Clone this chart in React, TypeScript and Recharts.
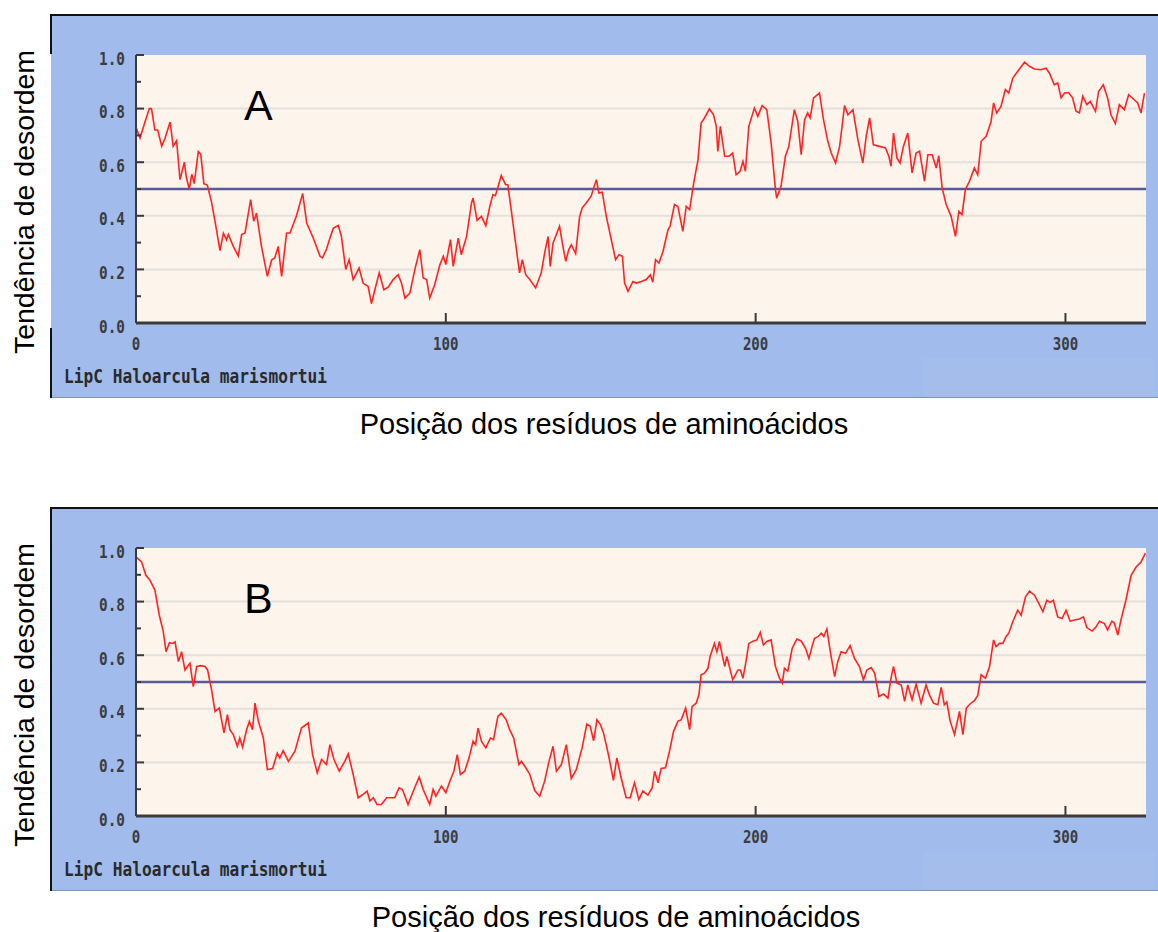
import React from 'react';
import { LineChart, Line, XAxis, YAxis, CartesianGrid, ReferenceLine } from 'recharts';

// Panel A – residue position and disorder tendency
const aPos = [0,1.3,2.9,4.3,5.0,6.1,7.0,8.3,9.4,11.0,12.0,13.1,14.2,15.6,16.3,17.2,18.0,18.8,20.1,20.9,21.9,23.0,24.4,25.8,27.1,28.2,29.2,29.8,31.4,33.0,34.1,35.2,37.0,38.0,38.9,40.5,42.4,43.8,44.8,45.9,47.0,48.6,49.7,51.8,53.8,55.1,57.2,59.4,60.2,61.5,62.6,63.7,65.3,66.3,67.7,68.8,70.1,72.0,73.3,74.9,76.0,77.1,78.5,80.0,81.4,83.0,84.6,85.7,86.8,88.4,90.0,91.6,92.7,93.8,94.8,96.4,98.1,99.2,100.0,101.5,102.4,104.0,105.0,106.7,108.3,108.8,110.1,111.5,112.9,114.2,115.2,116.0,117.9,119.3,120.0,121.1,122.5,123.8,124.7,125.8,127.1,129.0,130.8,131.9,133.0,133.7,134.6,136.7,137.8,138.7,139.7,140.5,141.9,143.2,144.0,145.3,146.9,148.6,149.4,150.5,151.8,153.4,154.8,155.9,157.0,157.7,158.8,160.4,161.5,163.1,164.7,166.0,166.8,167.7,168.8,170.1,171.7,172.4,173.8,174.9,176.5,177.6,178.7,180.0,181.4,182.4,183.5,185.1,186.4,187.3,187.8,188.6,190.0,191.4,192.6,193.7,195.0,195.9,196.7,197.8,199.6,200.7,202.1,203.6,205.0,206.4,206.8,208.2,209.6,210.7,212.5,213.6,214.7,215.8,216.8,217.6,218.7,220.6,221.9,223.3,224.4,225.8,227.1,227.9,228.7,229.8,231.4,233.0,234.6,235.7,236.8,238.0,240.0,241.9,243.0,243.7,244.5,245.6,246.6,247.7,249.1,250.5,251.8,252.9,254.5,255.6,257.0,258.3,259.1,260.2,261.5,263.1,264.5,265.6,266.6,267.7,269.0,270.6,271.7,272.8,274.4,276.0,276.8,277.8,279.2,280.6,281.7,283.0,284.6,286.8,288.4,290.0,292.1,293.7,294.8,296.4,297.5,298.6,299.7,301.0,302.3,303.4,304.5,305.6,306.9,308.0,309.7,310.7,312.2,313.6,314.7,316.1,317.4,319.0,320.4,322.2,323.3,324.4,325.5];
const aVal = [0.73,0.69,0.75,0.80,0.80,0.72,0.72,0.66,0.69,0.75,0.66,0.68,0.535,0.60,0.54,0.50,0.555,0.52,0.64,0.63,0.52,0.515,0.45,0.36,0.27,0.335,0.31,0.33,0.286,0.25,0.33,0.336,0.46,0.38,0.41,0.286,0.174,0.236,0.243,0.286,0.174,0.336,0.336,0.40,0.483,0.373,0.317,0.249,0.243,0.276,0.317,0.354,0.364,0.323,0.20,0.236,0.162,0.205,0.149,0.137,0.072,0.124,0.187,0.124,0.134,0.162,0.18,0.149,0.093,0.112,0.199,0.274,0.168,0.162,0.093,0.143,0.218,0.249,0.218,0.311,0.211,0.317,0.255,0.323,0.448,0.466,0.383,0.398,0.363,0.435,0.479,0.475,0.55,0.516,0.516,0.423,0.30,0.187,0.236,0.18,0.162,0.131,0.187,0.261,0.323,0.211,0.298,0.361,0.286,0.23,0.274,0.292,0.259,0.398,0.429,0.448,0.473,0.535,0.485,0.488,0.398,0.311,0.236,0.255,0.249,0.149,0.118,0.155,0.149,0.155,0.162,0.18,0.152,0.236,0.224,0.267,0.348,0.361,0.442,0.435,0.342,0.435,0.423,0.522,0.609,0.746,0.765,0.799,0.777,0.734,0.64,0.734,0.622,0.622,0.634,0.553,0.566,0.603,0.566,0.734,0.802,0.771,0.811,0.796,0.672,0.498,0.466,0.51,0.622,0.659,0.796,0.752,0.628,0.759,0.784,0.765,0.84,0.858,0.759,0.678,0.634,0.597,0.659,0.734,0.811,0.777,0.796,0.684,0.597,0.697,0.765,0.665,0.659,0.653,0.622,0.585,0.709,0.616,0.597,0.659,0.709,0.56,0.634,0.641,0.529,0.628,0.628,0.578,0.624,0.504,0.442,0.398,0.323,0.417,0.404,0.498,0.529,0.578,0.553,0.678,0.697,0.752,0.821,0.784,0.808,0.871,0.858,0.914,0.939,0.973,0.958,0.948,0.945,0.951,0.933,0.889,0.896,0.84,0.858,0.86,0.84,0.79,0.784,0.846,0.815,0.827,0.79,0.864,0.889,0.84,0.777,0.744,0.815,0.796,0.852,0.833,0.821,0.784,0.858];

// Panel B
const bPos = [0,1.8,3.2,4.5,6.1,7.5,8.8,9.7,10.8,11.8,12.6,13.7,14.7,15.8,16.6,17.4,18.5,19.6,20.9,22.3,23.1,24.4,25.5,26.9,28.4,29.5,30.3,31.4,32.7,33.5,34.4,35.7,36.6,37.6,38.4,39.5,41.1,42.4,44.1,45.6,46.4,47.5,49.2,51.3,53.4,55.6,57.0,58.5,59.9,61.5,62.6,63.9,65.6,67.4,68.5,70.1,71.7,73.3,74.6,75.5,76.6,77.8,79.2,80.9,83.5,84.9,86.0,87.8,89.7,91.4,92.7,94.8,95.9,96.8,98.6,100.0,101.3,102.6,103.7,104.7,106.1,107.5,108.8,109.6,110.4,111.5,112.9,114.4,115.4,116.8,117.9,119.5,120.6,121.9,123.6,124.4,125.8,127.1,128.7,130.3,131.9,133.3,134.6,135.7,137.3,138.9,140.5,142.1,144.0,145.5,146.6,147.7,148.8,149.9,150.9,152.6,154.1,155.2,156.6,158.2,159.5,160.9,162.3,163.6,165.2,166.6,167.4,168.5,169.5,170.9,172.2,173.5,174.9,176.0,177.4,178.7,179.5,180.8,181.7,182.4,183.5,184.6,185.3,186.7,187.5,188.3,190.0,190.7,192.6,194.3,195.1,195.9,196.7,197.8,199.3,200.4,201.5,202.5,203.6,205.0,206.4,207.7,208.6,209.3,210.4,211.8,213.3,214.7,216.1,217.2,218.2,219.0,220.1,221.2,222.0,223.0,224.1,225.5,226.5,227.6,229.0,230.5,231.9,233.5,234.8,235.9,237.3,238.4,239.8,241.3,242.7,243.7,244.5,245.6,247.0,248.1,249.1,250.5,251.8,253.4,255.0,256.1,257.4,258.8,259.9,260.9,261.7,262.8,264.2,265.8,266.9,268.0,269.2,270.6,271.7,272.8,274.2,275.5,276.8,277.6,278.7,279.8,280.8,281.7,283.0,284.6,285.7,287.1,288.4,290.0,291.4,292.7,294.0,295.0,296.1,297.5,298.9,300.2,301.5,302.9,304.5,305.8,306.9,308.6,309.7,311.0,312.6,313.6,315.0,315.8,316.9,317.9,319.5,321.2,322.8,324.4,325.8];
const bVal = [0.967,0.948,0.898,0.88,0.843,0.75,0.688,0.613,0.647,0.644,0.65,0.576,0.613,0.545,0.558,0.57,0.483,0.558,0.561,0.558,0.545,0.471,0.39,0.403,0.31,0.378,0.322,0.304,0.26,0.291,0.257,0.322,0.353,0.322,0.421,0.353,0.291,0.173,0.177,0.235,0.217,0.244,0.204,0.242,0.328,0.347,0.229,0.161,0.211,0.192,0.266,0.211,0.167,0.204,0.232,0.155,0.068,0.081,0.093,0.056,0.068,0.043,0.043,0.068,0.068,0.105,0.099,0.043,0.099,0.145,0.099,0.043,0.099,0.074,0.112,0.087,0.13,0.167,0.229,0.155,0.167,0.217,0.279,0.266,0.328,0.279,0.254,0.291,0.285,0.372,0.384,0.359,0.322,0.291,0.192,0.204,0.18,0.155,0.095,0.074,0.13,0.204,0.26,0.167,0.192,0.266,0.14,0.173,0.254,0.343,0.335,0.281,0.359,0.341,0.31,0.223,0.133,0.217,0.142,0.068,0.068,0.124,0.062,0.093,0.078,0.105,0.167,0.124,0.177,0.18,0.242,0.316,0.353,0.359,0.403,0.322,0.409,0.421,0.452,0.527,0.533,0.551,0.595,0.644,0.613,0.651,0.558,0.595,0.508,0.545,0.545,0.514,0.564,0.644,0.653,0.657,0.685,0.638,0.651,0.657,0.558,0.514,0.496,0.551,0.541,0.626,0.66,0.653,0.626,0.588,0.632,0.663,0.669,0.682,0.67,0.698,0.613,0.52,0.576,0.613,0.607,0.636,0.588,0.558,0.508,0.545,0.554,0.533,0.446,0.455,0.44,0.514,0.558,0.496,0.489,0.428,0.489,0.434,0.492,0.421,0.489,0.452,0.421,0.415,0.48,0.415,0.425,0.353,0.304,0.39,0.304,0.403,0.418,0.43,0.45,0.527,0.514,0.558,0.657,0.632,0.644,0.644,0.669,0.682,0.725,0.768,0.749,0.818,0.839,0.824,0.793,0.762,0.805,0.797,0.805,0.743,0.737,0.768,0.727,0.731,0.735,0.743,0.703,0.69,0.703,0.727,0.718,0.694,0.727,0.72,0.675,0.731,0.805,0.898,0.929,0.948,0.981];

const yTicks = [0, 0.1, 0.2, 0.3, 0.4, 0.5, 0.6, 0.7, 0.8, 0.9, 1.0];
const xTicks = [0, 100, 200, 300];
const gridValues = [0.2, 0.4, 0.6, 0.8];
const threshold = 0.5;
const proteinName = 'LipC Haloarcula marismortui';
const yTitle = 'Tendência de desordem';
const xTitle = 'Posição dos resíduos de aminoácidos';

const AXIS = '#3a3a3a';
const MONO = '"DejaVu Sans Mono", "Liberation Mono", monospace';
const SANS = '"Liberation Sans", Arial, sans-serif';

const YTick = (props: any) => {
  const { x, y, payload } = props;
  const v = payload.value as number;
  const major = Math.round(v * 10) % 2 === 0;
  const label = v.toFixed(1);
  return (
    <g>
      <line x1={x} x2={x + (major ? 8 : 5)} y1={y} y2={y} stroke={AXIS} strokeWidth={2} />
      {major && (
        <text x={x - 11} y={y + 9.5} textAnchor="end" fontFamily={MONO} fontWeight="bold"
          fontSize={17} fill="#3c3c3c" textLength={26} lengthAdjust="spacingAndGlyphs">{label}</text>
      )}
    </g>
  );
};

const XTick = (props: any) => {
  const { x, y, payload } = props;
  const v = payload.value as number;
  const s = String(v);
  return (
    <g>
      {v !== 0 && <line x1={x} x2={x} y1={y} y2={y - 10} stroke={AXIS} strokeWidth={2} />}
      <text x={x} y={y + 27} textAnchor="middle" fontFamily={MONO} fontWeight="bold"
        fontSize={17} fill="#3c3c3c" textLength={8.5 * s.length} lengthAdjust="spacingAndGlyphs">{s}</text>
    </g>
  );
};

type PanelProps = {
  top: number;
  pos: number[];
  val: number[];
  letter: string;
  xTitleCenter: number;
  splitBorder: boolean;
};

const Panel = ({ top, pos, val, letter, xTitleCenter, splitBorder }: PanelProps) => {
  const data = pos.map((p, i) => ({ pos: p, val: val[i] }));
  const H = 440;
  return (
    <div style={{ position: 'absolute', left: 0, top, width: 1158, height: H }}>
      {/* blue frame */}
      <div style={{ position: 'absolute', left: 51, top: 15, width: 1107, height: 382, background: '#a0bbec', borderBottom: '1px solid #8094bc' }} />
      <div style={{ position: 'absolute', left: 923, top: 358, width: 232, height: 38, background: '#a4bdea' }} />
      <div style={{ position: 'absolute', left: 50, top: 14, width: 1108, height: 2, background: '#111' }} />
      {splitBorder ? (
        <>
          <div style={{ position: 'absolute', left: 50, top: 14, width: 2, height: 40, background: '#111' }} />
          <div style={{ position: 'absolute', left: 50, top: 328, width: 2, height: 70, background: '#111' }} />
        </>
      ) : (
        <div style={{ position: 'absolute', left: 50, top: 14, width: 2, height: 384, background: '#111' }} />
      )}
      <div style={{ position: 'absolute', left: 0, top: 0 }}>
        <LineChart width={1158} height={H} data={data} margin={{ top: 55, right: 12, left: 86, bottom: 87 }}>
          <CartesianGrid vertical={false} horizontalValues={gridValues} stroke="#e6e0da" strokeWidth={2} fill="#fdf4ec" fillOpacity={1} />
          <XAxis dataKey="pos" type="number" domain={[0, 326]} ticks={xTicks} interval={0} height={30}
            tickSize={0} tickMargin={0} tick={<XTick />} axisLine={{ stroke: AXIS, strokeWidth: 3 }} tickLine={false} allowDataOverflow />
          <YAxis type="number" domain={[0, 1]} ticks={yTicks} interval={0} width={50}
            tickSize={0} tickMargin={0} tick={<YTick />} axisLine={{ stroke: AXIS, strokeWidth: 2 }} tickLine={false} allowDataOverflow />
          <ReferenceLine y={threshold} stroke="#5a5a98" strokeWidth={2.5} ifOverflow="visible" />
          <Line type="linear" dataKey="val" stroke="#ff2424" strokeWidth={1.6} dot={false} activeDot={false} isAnimationActive={false} />
        </LineChart>
      </div>
      <svg width={1158} height={H} style={{ position: 'absolute', left: 0, top: 0, pointerEvents: 'none' }}>
        <text x={244} y={120} fontFamily={SANS} fontSize={43} fill="#000">{letter}</text>
        <text x={64} y={383} fontFamily={MONO} fontWeight="bold" fontSize={20} fill="#2a2a2a"
          textLength={263} lengthAdjust="spacingAndGlyphs">{proteinName}</text>
        <text transform={`translate(34, 202) rotate(-90)`} textAnchor="middle" fontFamily={SANS} fontSize={28.5} fill="#000">{yTitle}</text>
        <text x={xTitleCenter} y={434} textAnchor="middle" fontFamily={SANS} fontSize={29} fill="#000">{xTitle}</text>
      </svg>
    </div>
  );
};

export default function App() {
  return (
    <div style={{ position: 'absolute', left: 0, top: 0, width: 1158, height: 932, background: '#fff', overflow: 'hidden' }}>
      <Panel top={0} pos={aPos} val={aVal} letter="A" xTitleCenter={604} splitBorder={true} />
      <Panel top={493} pos={bPos} val={bVal} letter="B" xTitleCenter={616} splitBorder={false} />
    </div>
  );
}
